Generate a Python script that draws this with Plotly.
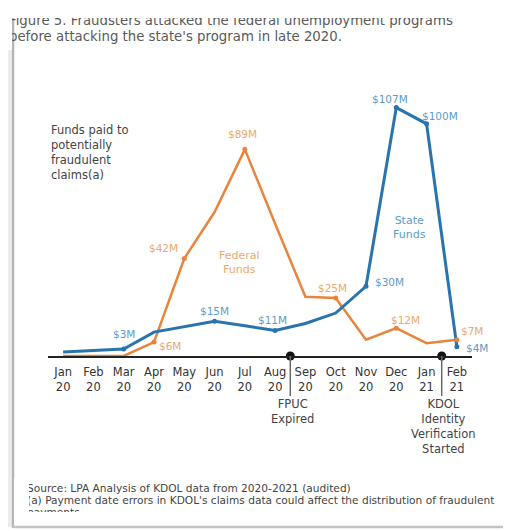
import plotly.graph_objects as go

# ---------------- data ----------------
tick_labels = ["Jan<br>20", "Feb<br>20", "Mar<br>20", "Apr<br>20", "May<br>20", "Jun<br>20",
               "Jul<br>20", "Aug<br>20", "Sep<br>20", "Oct<br>20", "Nov<br>20", "Dec<br>20",
               "Jan<br>21", "Feb<br>21"]
federal_funds = [0, 0, 0, 6, 42, 62, 89, 57, 25.5, 25, 7, 12, 5.5, 7]
state_funds = [1.7, 2.2, 3, 10.3, 12.5, 15, 13, 11, 14, 18.5, 30, 107, 100, 4]
federal_labelled = [3, 4, 6, 9, 11, 13]
state_labelled = [2, 5, 7, 10, 11, 12, 13]
event_positions = [7.5, 12.5]
event_texts = ["FPUC<br>Expired", "KDOL<br>Identity<br>Verification<br>Started"]

title_line1 = "Figure 5. Fraudsters attacked the federal unemployment programs"
title_line2 = "before attacking the state's program in late 2020."
source_line1 = "Source: LPA Analysis of KDOL data from 2020-2021 (audited)"
source_line2 = "(a) Payment date errors in KDOL's claims data could affect the distribution of fraudulent"
source_line3 = "payments"

# ---------------- style ----------------
OFF = 8                      # page body margin
W, H = 503, 523              # figure size
# plot area in page pixels
PX0, PX1, PY0, PY1 = 48, 472, 89, 356
L, R, T, B = PX0 - OFF, OFF + W - PX1, PY0 - OFF, OFF + H - PY1
ORANGE = "#e8853d"
ORANGE_TXT = "#eaa96b"
BLUE = "#2a74ad"
BLUE_TXT = "#5b9cca"
FONT = "DejaVu Sans"


def xp(px):
    return (px - PX0) / (PX1 - PX0)


def yp(py):
    return (PY1 - py) / (PY1 - PY0)


idx = list(range(len(tick_labels)))

fig = go.Figure()
fig.add_trace(go.Scatter(x=idx, y=federal_funds, mode="lines",
                         line=dict(color=ORANGE, width=2.5), cliponaxis=False,
                         hoverinfo="skip", showlegend=False))
fig.add_trace(go.Scatter(x=idx, y=state_funds, mode="lines",
                         line=dict(color=BLUE, width=3), cliponaxis=False,
                         hoverinfo="skip", showlegend=False))
fig.add_trace(go.Scatter(x=federal_labelled, y=[federal_funds[i] for i in federal_labelled],
                         mode="markers", marker=dict(color=ORANGE, size=5),
                         cliponaxis=False, hoverinfo="skip", showlegend=False))
fig.add_trace(go.Scatter(x=state_labelled, y=[state_funds[i] for i in state_labelled],
                         mode="markers", marker=dict(color=BLUE, size=5),
                         cliponaxis=False, hoverinfo="skip", showlegend=False))
fig.add_trace(go.Scatter(x=event_positions, y=[0] * len(event_positions), mode="markers",
                         marker=dict(color="#111111", size=9), cliponaxis=False,
                         hoverinfo="skip", showlegend=False))

ann = []
# value labels (pixel offsets)
fed_off = {3: (16, 4), 4: (-21, -10), 6: (-2, -15), 9: (-3, -10), 11: (9, -8), 13: (15, -9)}
sta_off = {2: (0, -15), 5: (0, -10), 7: (-3, -10), 10: (23, -4), 11: (-6, -9), 12: (13, -8), 13: (20, 1)}
for i in federal_labelled:
    dx, dy = fed_off[i]
    ann.append(dict(x=i, y=federal_funds[i], xref="x", yref="y", text=f"${round(federal_funds[i])}M",
                    showarrow=False, xshift=dx, yshift=-dy, xanchor="center", yanchor="middle",
                    font=dict(family=FONT, size=10.5, color=ORANGE_TXT)))
for i in state_labelled:
    dx, dy = sta_off[i]
    ann.append(dict(x=i, y=state_funds[i], xref="x", yref="y", text=f"${round(state_funds[i])}M",
                    showarrow=False, xshift=dx, yshift=-dy, xanchor="center", yanchor="middle",
                    font=dict(family=FONT, size=10.5, color=BLUE_TXT)))

# series names
ann.append(dict(x=xp(239), y=yp(262), xref="paper", yref="paper", text="Federal<br>Funds",
                showarrow=False, xanchor="center", yanchor="middle",
                font=dict(family=FONT, size=11, color=ORANGE_TXT)))
ann.append(dict(x=xp(409), y=yp(228), xref="paper", yref="paper", text="State<br>Funds",
                showarrow=False, xanchor="center", yanchor="middle",
                font=dict(family=FONT, size=11, color=BLUE_TXT)))

# left note
ann.append(dict(x=xp(49), y=yp(121), xref="paper", yref="paper",
                text="Funds paid to<br>potentially<br>fraudulent<br>claims(a)",
                showarrow=False, xanchor="left", yanchor="top", align="left",
                font=dict(family=FONT, size=11.5, color="#444444")))

# event notes
for xv, txt in zip(event_positions, event_texts):
    ann.append(dict(x=xv, y=yp(395), xref="x", yref="paper", text=txt, showarrow=False,
                    xanchor="center", yanchor="top", xshift=2,
                    font=dict(family=FONT, size=11.5, color="#444444")))

# title
for py, txt in [(20.5, title_line1), (36.5, title_line2)]:
    ann.append(dict(x=xp(7), y=yp(py), xref="paper", yref="paper", text=txt, showarrow=False,
                    xanchor="left", yanchor="middle",
                    font=dict(family=FONT, size=13.3, color="#5a5a5a")))

# source
for py, txt in [(488, source_line1), (500, source_line2), (512, source_line3)]:
    ann.append(dict(x=xp(25), y=yp(py), xref="paper", yref="paper", text=txt, showarrow=False,
                    xanchor="left", yanchor="middle",
                    font=dict(family=FONT, size=10.6, color="#444444")))


def mask(x0, y0, x1, y1):
    return dict(x=xp(x0), y=yp(y0), xref="paper", yref="paper", text=" ", showarrow=False,
                xanchor="left", yanchor="top", width=x1 - x0, height=y1 - y0,
                bgcolor="white", borderpad=0, borderwidth=0)


ann.append(mask(8, 8, 11.5, 50))     # left crop of title
ann.append(mask(11.5, 8, 511, 18))   # top crop of title line 1
ann.append(mask(14, 478, 29, 522))   # left crop of source
ann.append(mask(14, 512, 511, 525))  # bottom crop of last source line

shapes = [
    # card frame
    dict(type="rect", xref="paper", yref="paper", x0=xp(8), x1=xp(11.5), y0=yp(527), y1=yp(8),
         fillcolor="#ececec", line=dict(width=0), layer="below"),
    dict(type="line", xref="paper", yref="paper", x0=xp(13), x1=xp(13), y0=yp(528), y1=yp(8),
         line=dict(color="#b5b5b5", width=2.5), layer="below"),
    dict(type="line", xref="paper", yref="paper", x0=xp(13), x1=xp(511), y0=yp(527), y1=yp(527),
         line=dict(color="#c4c4c4", width=2.5), layer="below"),
]
for xv in event_positions:
    shapes.append(dict(type="line", xref="x", yref="paper", x0=xv, x1=xv, y0=0, y1=yp(396),
                       line=dict(color="#6a6a6a", width=1.5)))

fig.update_layout(
    width=W, height=H, margin=dict(l=L, r=R, t=T, b=B),
    paper_bgcolor="white", plot_bgcolor="white",
    annotations=ann, shapes=shapes, showlegend=False,
    xaxis=dict(range=[-0.5, 13.5], tickvals=idx, ticktext=tick_labels, showgrid=False,
               zeroline=False, showline=True, linecolor="#222222", linewidth=1.5, ticks="",
               ticklabelstandoff=4, tickfont=dict(family=FONT, size=11.5, color="#333333"),
               fixedrange=True),
    yaxis=dict(range=[0, 115], visible=False, fixedrange=True),
)

fig.write_html("out.html")
